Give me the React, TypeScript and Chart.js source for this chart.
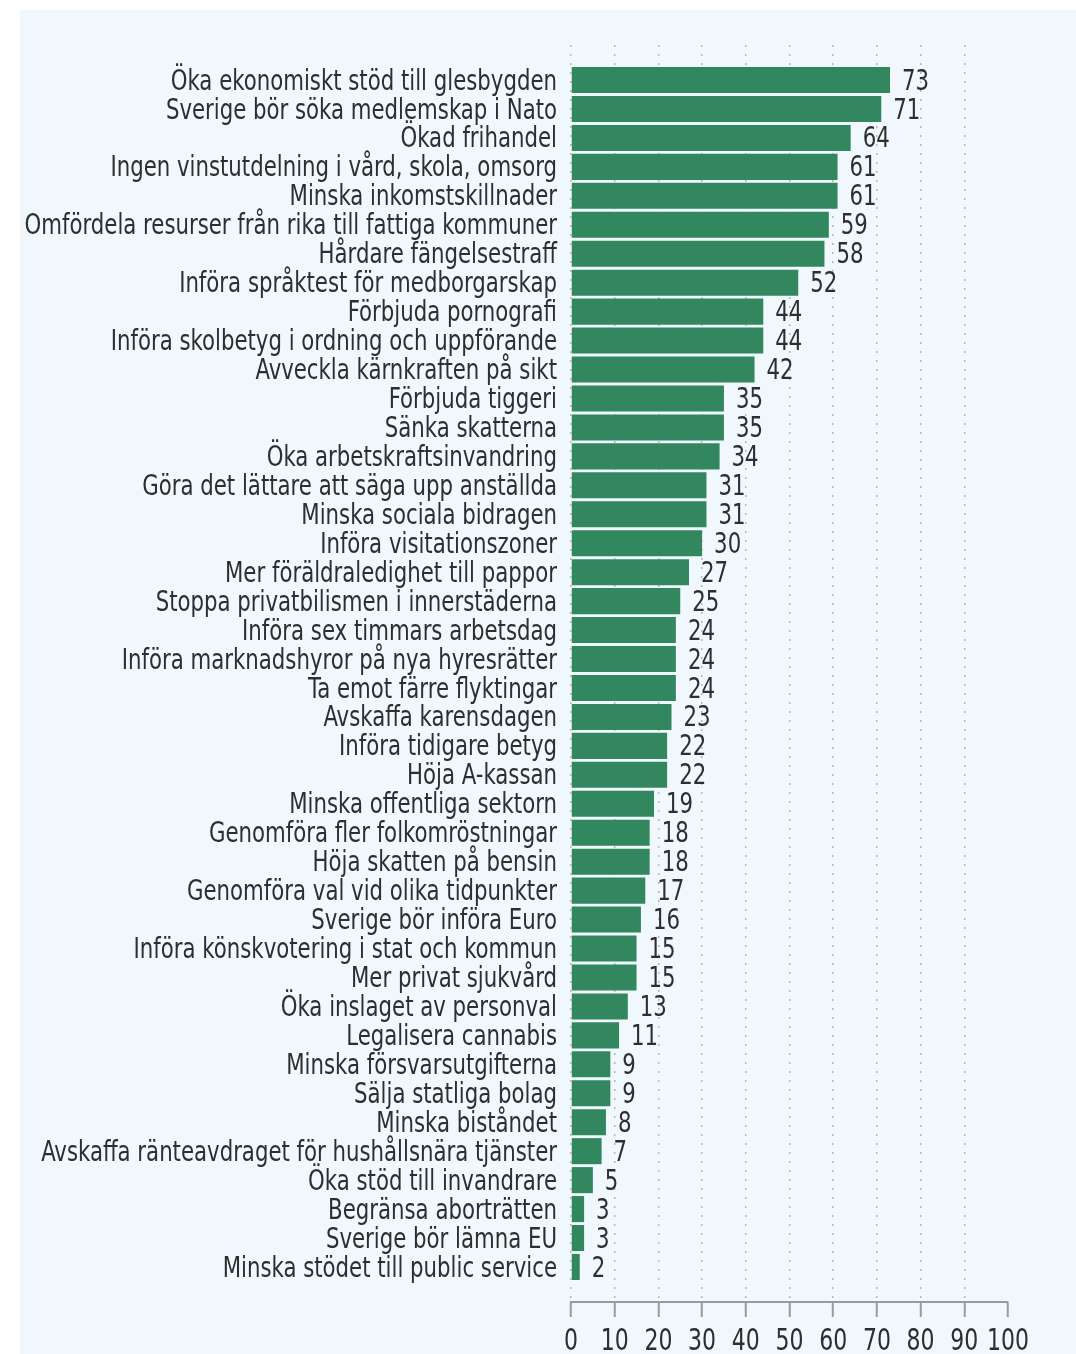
import React, { useEffect, useRef } from "react";
import { Chart, registerables } from "chart.js";

Chart.register(...registerables);

const categories: string[] = [
  "Öka ekonomiskt stöd till glesbygden",
  "Sverige bör söka medlemskap i Nato",
  "Ökad frihandel",
  "Ingen vinstutdelning i vård, skola, omsorg",
  "Minska inkomstskillnader",
  "Omfördela resurser från rika till fattiga kommuner",
  "Hårdare fängelsestraff",
  "Införa språktest för medborgarskap",
  "Förbjuda pornografi",
  "Införa skolbetyg i ordning och uppförande",
  "Avveckla kärnkraften på sikt",
  "Förbjuda tiggeri",
  "Sänka skatterna",
  "Öka arbetskraftsinvandring",
  "Göra det lättare att säga upp anställda",
  "Minska sociala bidragen",
  "Införa visitationszoner",
  "Mer föräldraledighet till pappor",
  "Stoppa privatbilismen i innerstäderna",
  "Införa sex timmars arbetsdag",
  "Införa marknadshyror på nya hyresrätter",
  "Ta emot färre flyktingar",
  "Avskaffa karensdagen",
  "Införa tidigare betyg",
  "Höja A-kassan",
  "Minska offentliga sektorn",
  "Genomföra fler folkomröstningar",
  "Höja skatten på bensin",
  "Genomföra val vid olika tidpunkter",
  "Sverige bör införa Euro",
  "Införa könskvotering i stat och kommun",
  "Mer privat sjukvård",
  "Öka inslaget av personval",
  "Legalisera cannabis",
  "Minska försvarsutgifterna",
  "Sälja statliga bolag",
  "Minska biståndet",
  "Avskaffa ränteavdraget för hushållsnära tjänster",
  "Öka stöd till invandrare",
  "Begränsa aborträtten",
  "Sverige bör lämna EU",
  "Minska stödet till public service",
];

const values: number[] = [
  73, 71, 64, 61, 61, 59, 58, 52, 44, 44, 42, 35, 35, 34, 31, 31, 30, 27, 25, 24, 24,
  24, 23, 22, 22, 19, 18, 18, 17, 16, 15, 15, 13, 11, 9, 9, 8, 7, 5, 3, 3, 2,
];

const xTicks: number[] = [0, 10, 20, 30, 40, 50, 60, 70, 80, 90, 100];

const FONT = "'DejaVu Sans Condensed', 'DejaVu Sans', sans-serif";
const FONT_SIZE = 29;
const SQUEEZE = 0.815;
const TEXT = "#2e2e2e";
const BAR = "#32875f";

function drawNarrow(ctx: CanvasRenderingContext2D, text: string, x: number, y: number, align: CanvasTextAlign) {
  ctx.save();
  ctx.translate(x, y);
  ctx.scale(SQUEEZE, 1);
  ctx.textAlign = align;
  ctx.fillText(text, 0, 0);
  ctx.restore();
}

const textPlugin = {
  id: "narrowText",
  afterDraw(chart: any) {
    const ctx: CanvasRenderingContext2D = chart.ctx;
    const xs = chart.scales.x;
    const ys = chart.scales.y;
    ctx.save();
    ctx.font = `${FONT_SIZE}px ${FONT}`;
    ctx.fillStyle = TEXT;
    ctx.textBaseline = "middle";
    // category labels
    categories.forEach((label, i) => {
      drawNarrow(ctx, label, ys.right - 14, ys.getPixelForValue(i) + 2, "right");
    });
    // value labels
    const meta = chart.getDatasetMeta(0);
    meta.data.forEach((el: any, i: number) => {
      drawNarrow(ctx, String(values[i]), el.x + 12, el.y + 2, "left");
    });
    // x tick labels
    ctx.font = `30px ${FONT}`;
    xTicks.forEach((v) => {
      drawNarrow(ctx, String(v), xs.getPixelForValue(v), xs.top + 40, "center");
    });
    ctx.restore();
  },
};

export default function App() {
  const ref = useRef<HTMLCanvasElement | null>(null);

  useEffect(() => {
    if (!ref.current) return;
    const chart = new Chart(ref.current, {
      type: "bar",
      data: {
        datasets: [
          {
            data: values.map((v, i) => ({ x: v, y: i })),
            backgroundColor: BAR,
            borderWidth: 0,
            barPercentage: 0.9,
            categoryPercentage: 1,
          },
        ],
      },
      options: {
        indexAxis: "y",
        responsive: false,
        animation: false,
        devicePixelRatio: 1,
        layout: { padding: { top: 35, right: 68, bottom: 0, left: 0 } },
        plugins: { legend: { display: false }, tooltip: { enabled: false } },
        scales: {
          x: {
            type: "linear",
            min: 0,
            max: 100,
            offset: false,
            afterBuildTicks: (scale: any) => {
              scale.ticks = xTicks.map((v) => ({ value: v }));
            },
            afterFit: (scale: any) => {
              scale.height = 52;
            },
            border: { display: true, color: "#9a9a9a", width: 2, dash: [2, 7] },
            grid: {
              display: true,
              offset: false,
              drawOnChartArea: true,
              drawTicks: true,
              tickLength: 15,
              tickColor: "#9a9a9a",
              tickWidth: 2,
              tickBorderDash: [],
              color: (c: any) => (c.tick && c.tick.value === 100 ? "rgba(0,0,0,0)" : "#b5b5b5"),
              lineWidth: 1.5,
            } as any,
            ticks: { display: false, autoSkip: false },
          },
          y: {
            type: "linear",
            reverse: true,
            offset: false,
            min: -1.21,
            max: 42.21,
            afterBuildTicks: (scale: any) => {
              scale.ticks = categories.map((_, i) => ({ value: i }));
            },
            afterFit: (scale: any) => {
              scale.width = 551;
            },
            border: { display: false },
            grid: { display: false, drawTicks: false, offset: false },
            ticks: { display: false, autoSkip: false },
          },
        },
      },
      plugins: [textPlugin],
    });
    return () => chart.destroy();
  }, []);

  return (
    <div
      style={{
        position: "absolute",
        left: 0,
        top: 0,
        width: 1076,
        height: 1354,
        background: "#ffffff",
        overflow: "hidden",
      }}
    >
      <div
        style={{
          position: "absolute",
          left: 20,
          top: 10,
          width: 1056,
          height: 1344,
          background: "#f0f8fd",
        }}
      >
        <canvas ref={ref} width={1056} height={1344} style={{ display: "block" }} />
      </div>
    </div>
  );
}
